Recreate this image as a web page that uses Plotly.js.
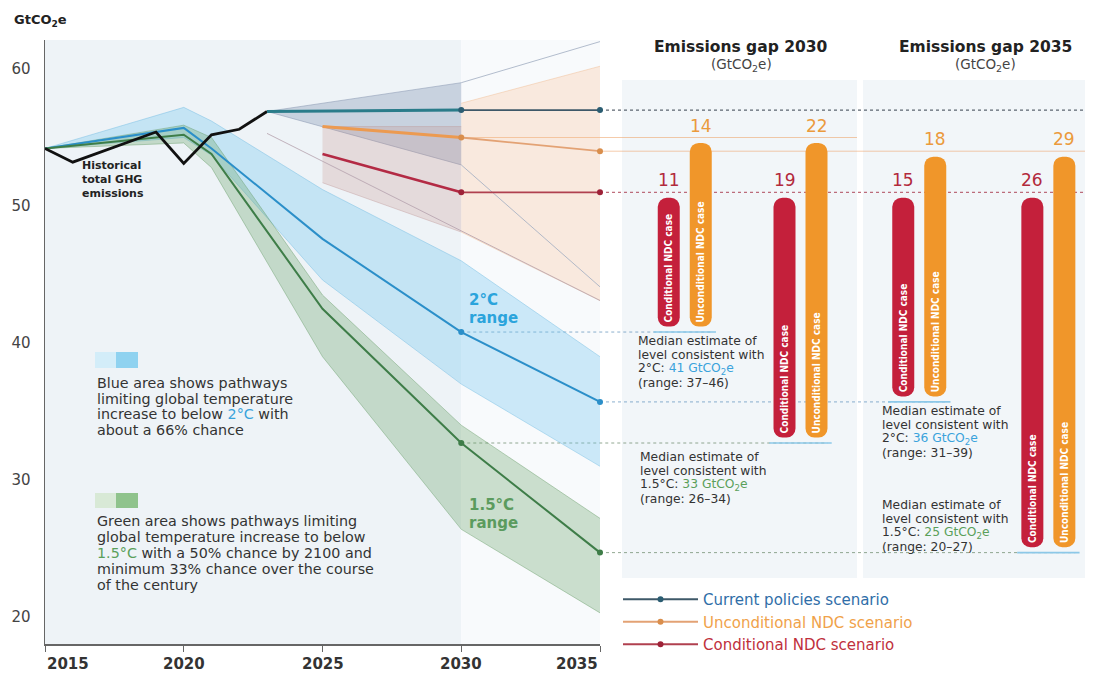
<!DOCTYPE html>
<html><head><meta charset="utf-8">
<script src="https://cdn.plot.ly/plotly-3.0.1.min.js"></script>
<style>html,body{margin:0;padding:0;background:#fff}#chart{width:1095px;height:678px}</style>
</head><body><div id="chart"></div>
<script>
// ---------------- data ----------------
const histYears  = [2015, 2016, 2019, 2020, 2021, 2022, 2023];
const histValues = [54.2, 53.2, 55.4, 53.1, 55.2, 55.6, 56.9];

const pathYears     = [2015, 2020, 2021, 2025, 2030, 2035];
const twoCUpper     = [54.2, 57.2, 56.2, 51.2, 46.0, 39.0];
const twoCMedian    = [54.2, 55.7, 54.2, 47.6, 40.8, 35.7];
const twoCLower     = [54.2, 55.0, 53.7, 44.6, 37.0, 31.0];
const oneFiveUpper  = [54.2, 55.9, 55.0, 43.5, 34.0, 27.2];
const oneFiveMedian = [54.2, 55.2, 53.8, 42.5, 32.7, 24.7];
const oneFiveLower  = [54.2, 54.6, 52.8, 39.0, 26.4, 20.3];

const cpYears      = [2023, 2030, 2035];
const cpValues     = [56.9, 57.0, 57.0];
const ndcYears     = [2025, 2030, 2035];
const uncondValues = [55.8, 55.0, 54.0];
const condValues   = [53.8, 51.0, 51.0];

const cpRangeYears   = [2023, 2030];
const cpRangeUpper   = [56.9, 59.0];
const cpRangeLower   = [56.9, 53.0];
const ndcRangeYears  = [2025, 2030];
const ndcRangeUpper  = [55.8, 55.8];
const ndcRangeLower  = [51.7, 48.1];
const postRangeYears = [2030, 2035];
const postRangeUpper = [57.5, 60.2];
const postRangeLower = [48.1, 43.1];
const cpUpperExt     = [59.0, 62.0];
const cpLowerExt     = [53.0, 44.1];
const ndcEdgeYears   = [2023, 2035];
const ndcEdgeValues  = [55.3, 43.1];

const gapTargets     = ['2°C', '1.5°C'];
const gap2030Cond    = [11, 19];
const gap2030Uncond  = [14, 22];
const gap2035Cond    = [15, 26];
const gap2035Uncond  = [18, 29];

const xTicks = [2015, 2020, 2025, 2030, 2035];
const yTicks = [20, 30, 40, 50, 60];

// ---------------- layout helpers ----------------
const W = 1095, H = 678, L = 45, R = 0, T = 40, B = 34;
const PW = W - L - R, PH = H - T - B;
const px2x = px => (px - L) / PW;
const py2y = py => (T + PH - py) / PH;
const mainRight = px2x(600);
const yearPaper = yr => mainRight * (yr - 2015) / 20;
const FONT = '"DejaVu Sans", Verdana, sans-serif';
const CFONT = '"DejaVu Sans Condensed", "Liberation Sans Narrow", "Roboto Condensed", Roboto, sans-serif';
const i30 = pathYears.indexOf(2030), i35 = pathYears.indexOf(2035);

const panel2030 = {left: 622, right: 857, c0: 684.75, c1: 800.5};
const panel2035 = {left: 863, right: 1085, c0: 919.25, c1: 1048.35};
function catAxis(p) {
  const s = p.c1 - p.c0;
  return {domain: [px2x(p.left), px2x(p.right)], range: [-(p.c0 - p.left) / s, 1 + (p.right - p.c1) / s],
          type: 'category', categoryarray: gapTargets, visible: false, fixedrange: true, anchor: 'y'};
}
const BAR_W = 22, COND_OFF = -27, UNC_OFF = 5, INSET = 0.4;
const COND_C = '#c4203b', UNC_C = '#f0962a';

// ---------------- traces ----------------
const traces = [];
function band(x, lo, hi, fill, edge) {
  traces.push({x: x, y: lo, mode: 'lines', line: {width: 0.8, color: edge}, showlegend: false, hoverinfo: 'skip'});
  traces.push({x: x, y: hi, mode: 'lines', line: {width: 0.8, color: edge}, fill: 'tonexty', fillcolor: fill, showlegend: false, hoverinfo: 'skip'});
}
band(pathYears, twoCLower, twoCUpper, 'rgba(110,195,238,0.32)', 'rgba(110,185,225,0.55)');
band(pathYears, oneFiveLower, oneFiveUpper, 'rgba(95,160,95,0.30)', 'rgba(95,150,95,0.5)');
band(cpRangeYears, cpRangeLower, cpRangeUpper, 'rgba(105,125,160,0.28)', 'rgba(140,155,180,0.7)');
band(ndcRangeYears, ndcRangeLower, ndcRangeUpper, 'rgba(195,130,125,0.22)', 'rgba(190,150,150,0.5)');
band(postRangeYears, postRangeLower, postRangeUpper, 'rgba(250,185,135,0.26)', 'rgba(240,190,150,0.6)');

function thin(x, y, color) {
  traces.push({x: x, y: y, mode: 'lines', line: {width: 1, color: color}, showlegend: false, hoverinfo: 'skip'});
}
thin(postRangeYears, cpUpperExt, 'rgba(160,172,192,0.8)');
thin(postRangeYears, cpLowerExt, 'rgba(160,172,192,0.8)');
thin(ndcEdgeYears, ndcEdgeValues, 'rgba(180,160,172,0.8)');

// pathway medians
traces.push({x: pathYears, y: twoCMedian, mode: 'lines', line: {color: '#2b8fc9', width: 2}, showlegend: false, hoverinfo: 'skip'});
traces.push({x: pathYears, y: oneFiveMedian, mode: 'lines', line: {color: '#3e7d48', width: 2}, showlegend: false, hoverinfo: 'skip'});
traces.push({x: pathYears.slice(i30), y: twoCMedian.slice(i30), mode: 'markers', marker: {color: '#2b8fc9', size: 6}, cliponaxis: false, showlegend: false, hoverinfo: 'skip'});
traces.push({x: pathYears.slice(i30), y: oneFiveMedian.slice(i30), mode: 'markers', marker: {color: '#3e7d48', size: 6}, cliponaxis: false, showlegend: false, hoverinfo: 'skip'});

// historical
traces.push({x: histYears, y: histValues, mode: 'lines', line: {color: '#111', width: 2.8}, showlegend: false, hoverinfo: 'skip'});

// scenarios: thick part up to 2030, thin part 2030-2035
function scenario(years, vals, thickC, thinC, dotC, name, w) {
  const k = years.indexOf(2030);
  traces.push({x: years.slice(0, k + 1), y: vals.slice(0, k + 1), mode: 'lines', line: {color: thickC, width: w}, showlegend: false, hoverinfo: 'skip'});
  traces.push({x: years.slice(k), y: vals.slice(k), mode: 'lines+markers', line: {color: thinC, width: 1.8},
               marker: {color: dotC, size: 6}, cliponaxis: false, name: name, hoverinfo: 'skip'});
}
scenario(cpYears, cpValues, '#2a7c8a', '#3e5868', '#2b5d72', '<span style="color:#2f6ea8">Current policies scenario</span>', 3);
scenario(ndcYears, uncondValues, '#ec9a50', '#e3a274', '#d98e4c', '<span style="color:#f0a24a">Unconditional NDC scenario</span>', 3);
scenario(ndcYears, condValues, '#b32a44', '#b0404f', '#9e2238', '<span style="color:#c0303c">Conditional NDC scenario</span>', 2.6);

// gap bars
function bars(axis, scale, scen, targets, off, color, label) {
  traces.push({type: 'bar', xaxis: axis, yaxis: 'y', x: gapTargets,
    base: targets.map(t => t + INSET), y: targets.map(t => scen - t - 2 * INSET),
    width: BAR_W / scale, offset: off / scale,
    marker: {color: color, cornerradius: 9, line: {width: 0}},
    text: gapTargets.map(() => label), textposition: 'inside', insidetextanchor: 'start', textangle: -90,
    textfont: {color: '#fff', size: 10, family: CFONT, weight: 700}, constraintext: 'none',
    showlegend: false, hoverinfo: 'skip'});
}
const s2 = panel2030.c1 - panel2030.c0, s3 = panel2035.c1 - panel2035.c0;
const t2030 = [twoCMedian[i30], oneFiveMedian[i30]];
const t2035 = [twoCMedian[i35], oneFiveMedian[i35]];
bars('x2', s2, condValues[1], t2030, COND_OFF, COND_C, 'Conditional NDC case');
bars('x2', s2, uncondValues[1], t2030, UNC_OFF, UNC_C, 'Unconditional NDC case');
bars('x3', s3, condValues[2], t2035, COND_OFF, COND_C, 'Conditional NDC case');
bars('x3', s3, uncondValues[2], t2035, UNC_OFF, UNC_C, 'Unconditional NDC case');

// ---------------- shapes ----------------
const shapes = [
  {type: 'rect', layer: 'below', xref: 'x', yref: 'paper', x0: 2015, x1: 2030, y0: 0, y1: 1, fillcolor: '#eef3f7', line: {width: 0}},
  {type: 'rect', layer: 'below', xref: 'x', yref: 'paper', x0: 2030, x1: 2035, y0: 0, y1: 1, fillcolor: '#f8fafc', line: {width: 0}},
  {type: 'rect', layer: 'below', xref: 'paper', yref: 'paper', x0: px2x(panel2030.left), x1: px2x(panel2030.right), y0: py2y(578), y1: py2y(80), fillcolor: '#f2f6f9', line: {width: 0}},
  {type: 'rect', layer: 'below', xref: 'paper', yref: 'paper', x0: px2x(panel2035.left), x1: px2x(panel2035.right), y0: py2y(578), y1: py2y(80), fillcolor: '#f2f6f9', line: {width: 0}},
];
function hline(x0, x1, y, color, dash, w) {
  shapes.push({type: 'line', layer: 'below', xref: 'paper', yref: 'y', x0: x0, x1: x1, y0: y, y1: y, line: {color: color, width: w || 1, dash: dash || 'solid'}});
}
const barEdge = (p, idx, side) => px2x(p.c0 + idx * (p.c1 - p.c0) + (side < 0 ? COND_OFF : UNC_OFF + BAR_W));
hline(yearPaper(2035), px2x(1085), cpValues[2], '#5c6670', 'dot', 1.3);
hline(yearPaper(2030), px2x(panel2030.right), uncondValues[1], 'rgba(236,160,100,0.55)');
hline(yearPaper(2035), px2x(1085), uncondValues[2], 'rgba(236,160,100,0.55)');
hline(yearPaper(2035), px2x(1085), condValues[2], 'rgba(165,50,70,0.7)', 'dot', 1.3);
hline(yearPaper(2030), barEdge(panel2030, 0, 1), twoCMedian[i30], 'rgba(100,150,190,0.75)', 'dot');
hline(yearPaper(2030), barEdge(panel2030, 1, 1), oneFiveMedian[i30], 'rgba(110,140,110,0.75)', 'dot');
hline(yearPaper(2035), barEdge(panel2035, 0, 1), twoCMedian[i35], 'rgba(100,150,190,0.75)', 'dot');
hline(yearPaper(2035), barEdge(panel2035, 1, 1), oneFiveMedian[i35], 'rgba(110,140,110,0.75)', 'dot');
[[panel2030, t2030], [panel2035, t2035]].forEach(([p, t]) => t.forEach((v, i) =>
  hline(barEdge(p, i, -1) - 0.004, barEdge(p, i, 1) + 0.004, v, '#8cc8e8', 'solid', 1.6)));
// legend swatches
shapes.push({type: 'rect', xref: 'paper', yref: 'paper', x0: px2x(95), x1: px2x(116), y0: py2y(368), y1: py2y(352), fillcolor: '#d3edf9', line: {width: 0}});
shapes.push({type: 'rect', xref: 'paper', yref: 'paper', x0: px2x(116), x1: px2x(138), y0: py2y(368), y1: py2y(352), fillcolor: '#8fd2f0', line: {width: 0}});
shapes.push({type: 'rect', xref: 'paper', yref: 'paper', x0: px2x(95), x1: px2x(116), y0: py2y(508), y1: py2y(493), fillcolor: '#d8e9d6', line: {width: 0}});
shapes.push({type: 'rect', xref: 'paper', yref: 'paper', x0: px2x(116), x1: px2x(138), y0: py2y(508), y1: py2y(493), fillcolor: '#8fc38c', line: {width: 0}});

// ---------------- annotations ----------------
const annotations = [];
function ann(px, py, text, size, color, opts) {
  annotations.push(Object.assign({xref: 'paper', yref: 'paper', x: px2x(px), y: py2y(py), text: text, showarrow: false,
    xanchor: 'left', yanchor: 'middle', align: 'left', font: {family: FONT, size: size, color: color}}, opts || {}));
}
function lines(px, py0, dy, arr, size, color, opts) {
  arr.forEach((t, i) => ann(px, py0 + i * dy, t, size, color, opts));
}
const GT = 'GtCO<sub>2</sub>e';
ann(12, 20, '<b>' + GT + '</b>', 13, '#222');
xTicks.forEach((t, i) => ann(45 + (600 - 45) * (t - 2015) / 20, 664, '<b>' + t + '</b>', 15, '#333',
  {xanchor: i === 0 ? 'left' : (i === xTicks.length - 1 ? 'right' : 'center')}));
lines(80, 165, 14.5, ['<b>Historical</b>', '<b>total GHG</b>', '<b>emissions</b>'], 11, '#222');
lines(95, 383, 15.7, ['Blue area shows pathways', 'limiting global temperature',
  'increase to below <span style="color:#3aa3dc">2°C</span> with', 'about a 66% chance'], 14.3, '#333');
lines(95, 521, 16, ['Green area shows pathways limiting', 'global temperature increase to below',
  '<span style="color:#5aa05a">1.5°C</span> with a 50% chance by 2100 and', 'minimum 33% chance over the course', 'of the century'], 14.3, '#333');
lines(467, 300, 18, ['<b>2°C</b>', '<b>range</b>'], 15, '#2ba4dc');
lines(467, 505, 18, ['<b>1.5°C</b>', '<b>range</b>'], 15, '#5b9b5e');
ann(741, 47, '<b>Emissions gap 2030</b>', 15.5, '#222', {xanchor: 'center'});
ann(741, 65, '(' + GT + ')', 13.5, '#444', {xanchor: 'center'});
ann(985, 47, '<b>Emissions gap 2035</b>', 15.5, '#222', {xanchor: 'center'});
ann(985, 65, '(' + GT + ')', 13.5, '#444', {xanchor: 'center'});
function median(px, py, label, med, lo, hi, color) {
  lines(px, py, 14, ['Median estimate of', 'level consistent with',
    label + ': <span style="color:' + color + '">' + Math.round(med) + ' ' + GT + '</span>',
    '(range: ' + Math.round(lo) + '–' + Math.round(hi) + ')'], 12.3, '#333');
}
median(636, 341, '2°C', twoCMedian[i30], twoCLower[i30], twoCUpper[i30], '#3aa3dc');
median(638, 457, '1.5°C', oneFiveMedian[i30], oneFiveLower[i30], oneFiveUpper[i30], '#5aa05a');
median(880, 411, '2°C', twoCMedian[i35], twoCLower[i35], twoCUpper[i35], '#3aa3dc');
median(880, 505, '1.5°C', oneFiveMedian[i35], oneFiveLower[i35], oneFiveUpper[i35], '#5aa05a');
function gapLabels(axis, cond, unc, condLvl, uncLvl) {
  gapTargets.forEach((g, i) => {
    annotations.push({xref: axis, yref: 'y', x: g, y: condLvl, xshift: COND_OFF + BAR_W / 2, yshift: 0, text: String(cond[i]),
      showarrow: false, yanchor: 'bottom', font: {family: FONT, size: 17, color: '#b22a3c'}});
    annotations.push({xref: axis, yref: 'y', x: g, y: uncLvl, xshift: UNC_OFF + BAR_W / 2, yshift: 0, text: String(unc[i]),
      showarrow: false, yanchor: 'bottom', font: {family: FONT, size: 17, color: '#eb9a3c'}});
  });
}
gapLabels('x2', gap2030Cond, gap2030Uncond, condValues[1], uncondValues[1]);
gapLabels('x3', gap2035Cond, gap2035Uncond, condValues[2], uncondValues[2]);

// ---------------- layout ----------------
const layout = {
  width: W, height: H, margin: {l: L, r: R, t: T, b: B},
  paper_bgcolor: '#fff', plot_bgcolor: 'rgba(0,0,0,0)',
  font: {family: FONT, color: '#333'},
  barmode: 'overlay',
  xaxis: {domain: [0, mainRight], range: [2015, 2035], tickvals: xTicks, showticklabels: false, ticks: 'outside', ticklen: 6,
          tickcolor: '#666', showline: true, linecolor: '#666', linewidth: 1.5, showgrid: false, zeroline: false, fixedrange: true},
  xaxis2: catAxis(panel2030),
  xaxis3: catAxis(panel2035),
  yaxis: {range: [60 - (PH + T - 69) / 13.7, 60 + (69 - T) / 13.7], tickvals: yTicks, ticks: '', showline: true, linecolor: '#666', linewidth: 1.5,
          showgrid: false, zeroline: false, tickfont: {size: 15, color: '#444'}, ticklabelstandoff: 10, fixedrange: true},
  showlegend: true,
  legend: {x: px2x(618), y: py2y(583), xanchor: 'left', yanchor: 'top', bgcolor: 'rgba(0,0,0,0)', tracegroupgap: 0,
           traceorder: 'normal', font: {family: FONT, size: 15}, itemwidth: 75},
  shapes: shapes, annotations: annotations
};
Plotly.newPlot('chart', traces, layout, {displayModeBar: false, staticPlot: true});
</script></body></html>
